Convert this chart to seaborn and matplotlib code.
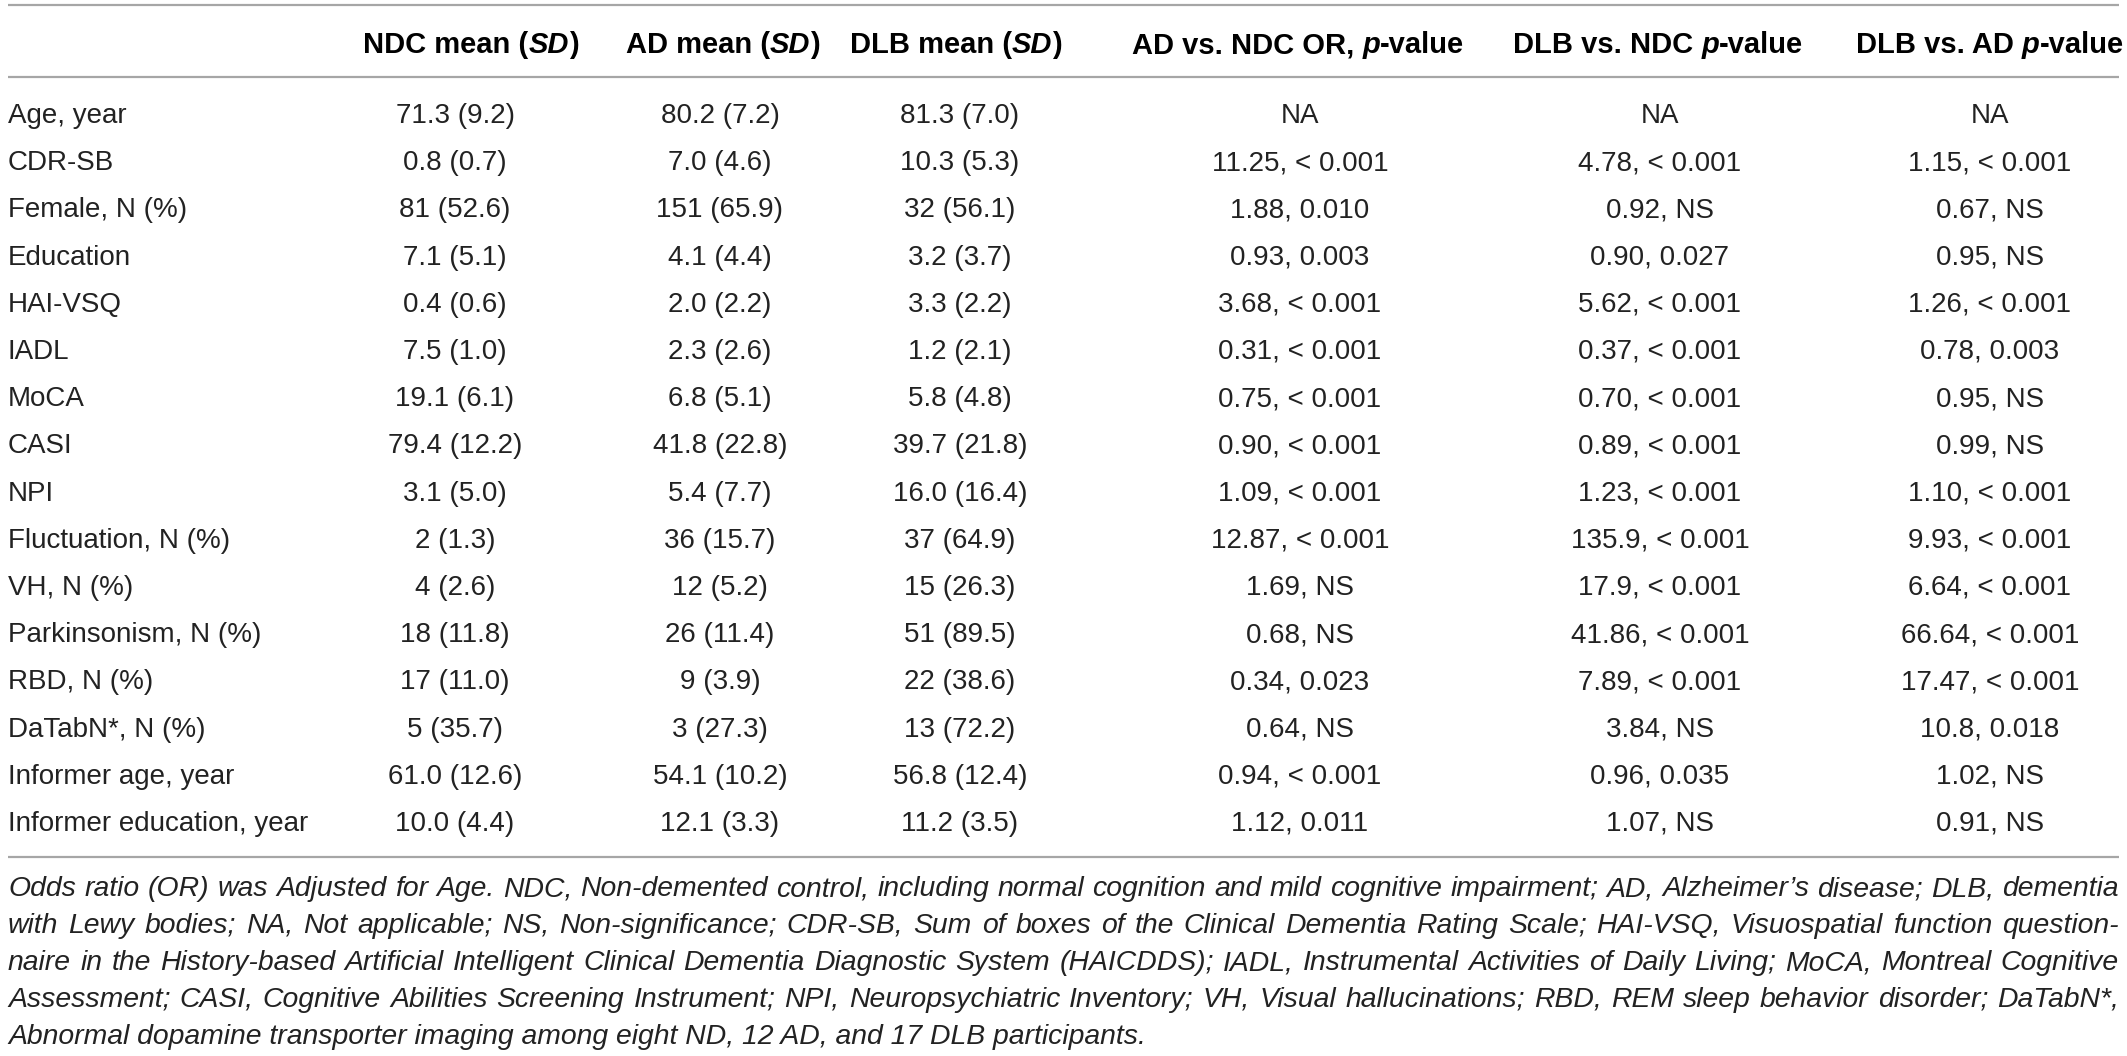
import matplotlib
matplotlib.use("Agg")
import matplotlib.pyplot as plt
import seaborn as sns

# ---- table content ----
row_labels = ["Age, year", "CDR-SB", "Female, N (%)", "Education", "HAI-VSQ", "IADL",
              "MoCA", "CASI", "NPI", "Fluctuation, N (%)", "VH, N (%)",
              "Parkinsonism, N (%)", "RBD, N (%)", "DaTabN*, N (%)",
              "Informer age, year", "Informer education, year"]
ndc = ["71.3 (9.2)", "0.8 (0.7)", "81 (52.6)", "7.1 (5.1)", "0.4 (0.6)", "7.5 (1.0)",
       "19.1 (6.1)", "79.4 (12.2)", "3.1 (5.0)", "2 (1.3)", "4 (2.6)", "18 (11.8)",
       "17 (11.0)", "5 (35.7)", "61.0 (12.6)", "10.0 (4.4)"]
ad = ["80.2 (7.2)", "7.0 (4.6)", "151 (65.9)", "4.1 (4.4)", "2.0 (2.2)", "2.3 (2.6)",
      "6.8 (5.1)", "41.8 (22.8)", "5.4 (7.7)", "36 (15.7)", "12 (5.2)", "26 (11.4)",
      "9 (3.9)", "3 (27.3)", "54.1 (10.2)", "12.1 (3.3)"]
dlb = ["81.3 (7.0)", "10.3 (5.3)", "32 (56.1)", "3.2 (3.7)", "3.3 (2.2)", "1.2 (2.1)",
       "5.8 (4.8)", "39.7 (21.8)", "16.0 (16.4)", "37 (64.9)", "15 (26.3)", "51 (89.5)",
       "22 (38.6)", "13 (72.2)", "56.8 (12.4)", "11.2 (3.5)"]
ad_vs_ndc = ["NA", "11.25, < 0.001", "1.88, 0.010", "0.93, 0.003", "3.68, < 0.001",
             "0.31, < 0.001", "0.75, < 0.001", "0.90, < 0.001", "1.09, < 0.001",
             "12.87, < 0.001", "1.69, NS", "0.68, NS", "0.34, 0.023", "0.64, NS",
             "0.94, < 0.001", "1.12, 0.011"]
dlb_vs_ndc = ["NA", "4.78, < 0.001", "0.92, NS", "0.90, 0.027", "5.62, < 0.001",
              "0.37, < 0.001", "0.70, < 0.001", "0.89, < 0.001", "1.23, < 0.001",
              "135.9, < 0.001", "17.9, < 0.001", "41.86, < 0.001", "7.89, < 0.001",
              "3.84, NS", "0.96, 0.035", "1.07, NS"]
dlb_vs_ad = ["NA", "1.15, < 0.001", "0.67, NS", "0.95, NS", "1.26, < 0.001",
             "0.78, 0.003", "0.95, NS", "0.99, NS", "1.10, < 0.001", "9.93, < 0.001",
             "6.64, < 0.001", "66.64, < 0.001", "17.47, < 0.001", "10.8, 0.018",
             "1.02, NS", "0.91, NS"]

# header pieces: (text, italic?)
headers = [
    [("NDC mean (", False), ("SD", True), (")", False)],
    [("AD mean (", False), ("SD", True), (")", False)],
    [("DLB mean (", False), ("SD", True), (")", False)],
    [("AD vs. NDC OR, ", False), ("p", True), ("-value", False)],
    [("DLB vs. NDC ", False), ("p", True), ("-value", False)],
    [("DLB vs. AD ", False), ("p", True), ("-value", False)],
]

footnote = [
    "Odds ratio (OR) was Adjusted for Age. NDC, Non-demented control, including normal cognition and mild cognitive impairment; AD, Alzheimer\u2019s disease; DLB, dementia",
    "with Lewy bodies; NA, Not applicable; NS, Non-significance; CDR-SB, Sum of boxes of the Clinical Dementia Rating Scale; HAI-VSQ, Visuospatial function question-",
    "naire in the History-based Artificial Intelligent Clinical Dementia Diagnostic System (HAICDDS); IADL, Instrumental Activities of Daily Living; MoCA, Montreal Cognitive",
    "Assessment; CASI, Cognitive Abilities Screening Instrument; NPI, Neuropsychiatric Inventory; VH, Visual hallucinations; RBD, REM sleep behavior disorder; DaTabN*,",
    "Abnormal dopamine transporter imaging among eight ND, 12 AD, and 17 DLB participants.",
]

# ---- style ----
sns.set_theme(style="white")
plt.rcParams["font.family"] = ["Liberation Sans", "DejaVu Sans"]

W, H = 2127, 1056
fig = plt.figure(figsize=(W / 100, H / 100), dpi=100)
ax = fig.add_axes([0, 0, 1, 1])
ax.set_xlim(0, W)
ax.set_ylim(H, 0)
ax.axis("off")
renderer = fig.canvas.get_renderer()

body_fs = 20
head_fs = 21
text_col = "#222222"
rule_col = "#a6a6a6"

header_x = [471, 723, 956, 1298, 1658, 1990]
value_x = [455, 720, 960, 1300, 1660, 1990]
left_x, right_x = 8, 2119


def draw_runs(runs, xc, y):
    # header made of bold and bold-italic parts, centred on xc
    items = []
    for s, it in runs:
        t = ax.text(0, y, s, fontsize=head_fs, fontweight="bold",
                    fontstyle="italic" if it else "normal",
                    color="black", va="baseline", ha="left")
        items.append((t, t.get_window_extent(renderer).width))
    total = sum(w for _, w in items)
    x = xc - total / 2
    for t, w in items:
        t.set_x(x)
        x += w


# rules
for yy in (5, 77, 857):
    ax.plot([left_x, right_x], [yy, yy], color=rule_col, lw=1.6, solid_capstyle="butt")

# header
for runs, xc in zip(headers, header_x):
    draw_runs(runs, xc, 53)

# body rows
columns = [ndc, ad, dlb, ad_vs_ndc, dlb_vs_ndc, dlb_vs_ad]
for i, lab in enumerate(row_labels):
    yb = 123 + 47.2 * i
    ax.text(left_x, yb, lab, fontsize=body_fs, color=text_col, va="baseline", ha="left")
    for col, xc in zip(columns, value_x):
        ax.text(xc, yb, col[i], fontsize=body_fs, color=text_col, va="baseline", ha="center")

# footnote: pick a size so the widest full line just fits, then justify
probe_fs = 17
widest = 0
for line in footnote[:-1]:
    p = ax.text(0, 0, line, fontsize=probe_fs, fontstyle="italic")
    widest = max(widest, p.get_window_extent(renderer).width)
    p.remove()
foot_fs = probe_fs * (right_x - left_x) / widest * 0.995

foot_y = [896, 933, 970, 1007, 1044]
for k, (line, yb) in enumerate(zip(footnote, foot_y)):
    if k == len(footnote) - 1:
        ax.text(left_x, yb, line, fontsize=foot_fs, fontstyle="italic",
                color=text_col, va="baseline", ha="left")
        continue
    words = line.split(" ")
    ts = [ax.text(0, yb, w_, fontsize=foot_fs, fontstyle="italic", color=text_col,
                  va="baseline", ha="left") for w_ in words]
    widths = [t.get_window_extent(renderer).width for t in ts]
    gap = (right_x - left_x - sum(widths)) / (len(words) - 1)
    x = left_x
    for t, w_ in zip(ts, widths):
        t.set_x(x)
        x += w_ + gap

fig.savefig("out.png", dpi=100)
